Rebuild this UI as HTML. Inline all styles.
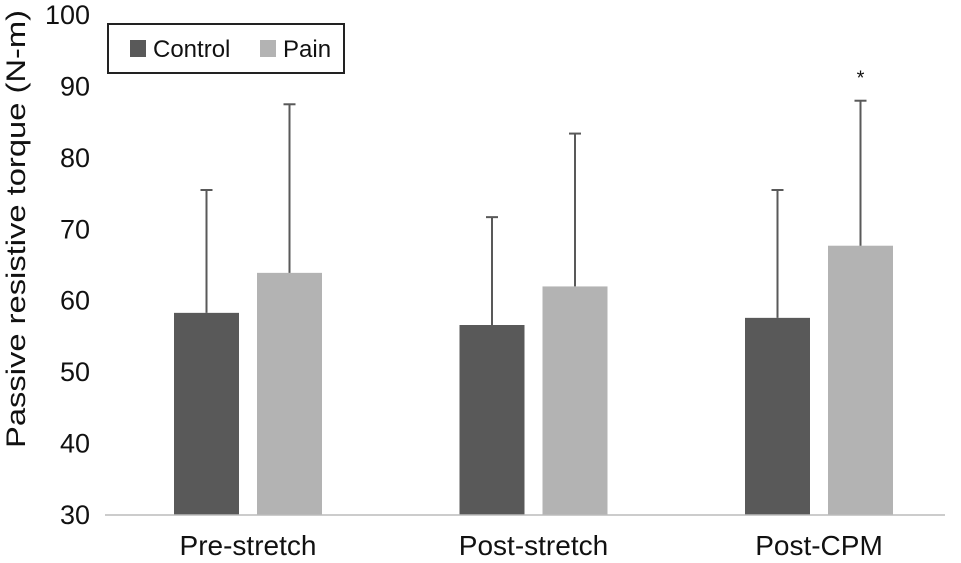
<!DOCTYPE html>
<html><head><meta charset="utf-8"><style>
body{margin:0;background:#fff;}
svg{display:block;font-family:"Liberation Sans",Arial,sans-serif;}
</style></head><body>
<svg id="chart" width="961" height="563">
<g id="yaxis"></g>
<g id="bars"></g>
<g id="xaxis"></g>
<text transform="translate(25,229) rotate(-90)" text-anchor="middle" font-size="27" textLength="438" lengthAdjust="spacingAndGlyphs" fill="#111">Passive resistive torque (N-m)</text>
<g>
<rect x="108" y="24" width="236" height="49" fill="#fff" stroke="#222" stroke-width="2"/>
<g><rect x="130" y="40" width="16" height="17" fill="#595959"/><text x="153" y="57" font-size="24" fill="#111">Control</text></g>
<g><rect x="260" y="40" width="16" height="17" fill="#b3b3b3"/><text x="283" y="57" font-size="24" fill="#111">Pain</text></g>
</g>
</svg>
<script>
const categories=["Pre-stretch","Post-stretch","Post-CPM"];
const controlMeans=[58.3,56.6,57.6];
const controlSD=[17.2,15.1,17.9];
const painMeans=[63.9,62.0,67.7];
const painSD=[23.6,21.4,20.3];
const yTicks=[30,40,50,60,70,80,90,100];
const significant=[false,false,true];
const NS="http://www.w3.org/2000/svg";
const y=v=>515-(v-30)*500/70;
const groupCenter=i=>248+i*285.5;
function mk(tag,attrs,parent){const e=document.createElementNS(NS,tag);for(const k in attrs)e.setAttribute(k,attrs[k]);parent.appendChild(e);return e;}
const ya=document.getElementById('yaxis'),bg=document.getElementById('bars'),xa=document.getElementById('xaxis');
yTicks.forEach(t=>{const tx=mk('text',{x:90,y:y(t)+9,'text-anchor':'end','font-size':27,fill:'#111'},ya);tx.textContent=t;

});
const axis=mk('line',{x1:105,x2:945,y1:515,y2:515,stroke:'#bbb','stroke-width':1.5},xa);


function bar(cx,m,sd,color,name){
 const r=mk('rect',{x:cx-32.5,y:y(m),width:65,height:515-y(m),fill:color},bg);
 
 
 const l=mk('line',{x1:cx,x2:cx,y1:y(m),y2:y(m+sd),stroke:'#595959','stroke-width':2},bg);
 
 
 const c=mk('line',{x1:cx-6,x2:cx+6,y1:y(m+sd),y2:y(m+sd),stroke:'#595959','stroke-width':2},bg);
 
 
}
categories.forEach((c,i)=>{
 const gc=groupCenter(i);
 bar(gc-41.5,controlMeans[i],controlSD[i],'#595959','bar-control-'+i);
 bar(gc+41.5,painMeans[i],painSD[i],'#b3b3b3','bar-pain-'+i);
 const t=mk('text',{x:gc,y:555,'text-anchor':'middle','font-size':28,fill:'#111'},xa);t.textContent=c;
 
 
 if(significant[i]){const s=mk('text',{x:gc+41.5,y:y(painMeans[i]+painSD[i])-16,'text-anchor':'middle','font-size':20,fill:'#111'},bg);s.textContent='*';
 
 }
});
</script>
</body></html>
